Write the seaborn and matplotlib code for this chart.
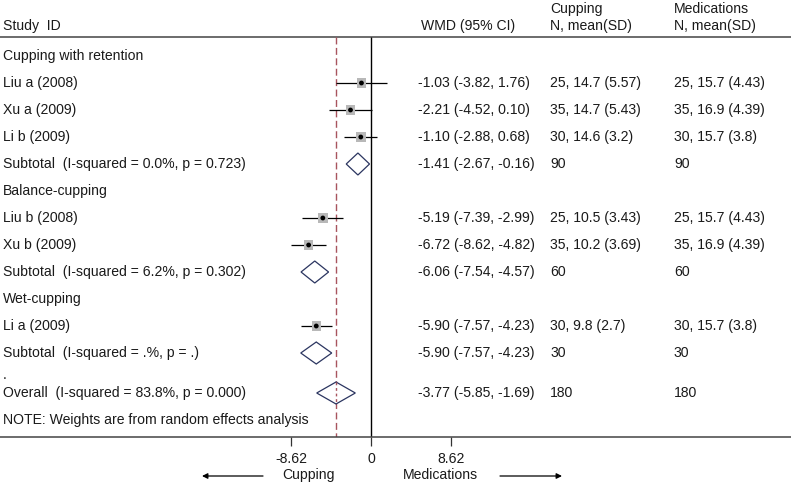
import matplotlib
matplotlib.use("Agg")
import matplotlib.pyplot as plt
from matplotlib.patches import Polygon
import seaborn as sns
import pandas as pd

# ---------------- data ----------------
study_names = ["Liu a (2008)", "Xu a (2009)", "Li b (2009)",
               "Liu b (2008)", "Xu b (2009)", "Li a (2009)"]
study_group = [0, 0, 0, 1, 1, 2]
study_est = [-1.03, -2.21, -1.10, -5.19, -6.72, -5.90]
study_lo = [-3.82, -4.52, -2.88, -7.39, -8.62, -7.57]
study_hi = [1.76, 0.10, 0.68, -2.99, -4.82, -4.23]
cup_n = [25, 35, 30, 25, 35, 30]
cup_mean = [14.7, 14.7, 14.6, 10.5, 10.2, 9.8]
cup_sd = ["5.57", "5.43", "3.2", "3.43", "3.69", "2.7"]
med_n = [25, 35, 30, 25, 35, 30]
med_mean = [15.7, 16.9, 15.7, 15.7, 16.9, 15.7]
med_sd = ["4.43", "4.39", "3.8", "4.43", "4.39", "3.8"]

group_names = ["Cupping with retention", "Balance-cupping", "Wet-cupping"]
sub_est = [-1.41, -6.06, -5.90]
sub_lo = [-2.67, -7.54, -7.57]
sub_hi = [-0.16, -4.57, -4.23]
sub_i2 = ["0.0%", "6.2%", ".%"]
sub_p = ["0.723", "0.302", "."]
sub_ncup = [90, 60, 30]
sub_nmed = [90, 60, 30]

overall_est, overall_lo, overall_hi = -3.77, -5.85, -1.69
overall_i2, overall_p = "83.8%", "0.000"
overall_ncup, overall_nmed = 180, 180

tick_vals = [-8.62, 0, 8.62]
tick_labels = ["-8.62", "0", "8.62"]

# ---------------- layout ----------------
sns.set_style("white")
plt.rcParams["font.family"] = ["Liberation Sans", "DejaVu Sans"]
FS = 10.1
TXT = "#1a1a1a"

W, H = 791, 483
fig = plt.figure(figsize=(W / 100, H / 100), dpi=100)
AX_BOTTOM = 437
ax = fig.add_axes([0, (H - AX_BOTTOM) / H, 1, AX_BOTTOM / H])
X0, PX = 371, 9.28
ax.set_xlim(-X0 / PX, (W - X0) / PX)
ax.set_ylim(AX_BOTTOM, 0)


def px(p):
    return (p - X0) / PX


def row(i):
    return 56 + 27 * i


COL_ID, COL_WMD, COL_CUP, COL_MED = px(3), px(418), px(550), px(674)

# header
hdr_y = 26
ax.text(COL_ID, hdr_y, "Study  ID", fontsize=FS, color=TXT, va="center")
ax.text(px(421), hdr_y, "WMD (95% CI)", fontsize=FS, color=TXT, va="center")
ax.text(COL_CUP, 9, "Cupping", fontsize=FS, color=TXT, va="center")
ax.text(COL_CUP, hdr_y, "N, mean(SD)", fontsize=FS, color=TXT, va="center")
ax.text(COL_MED, 9, "Medications", fontsize=FS, color=TXT, va="center")
ax.text(COL_MED, hdr_y, "N, mean(SD)", fontsize=FS, color=TXT, va="center")
ax.hlines(37, ax.get_xlim()[0], ax.get_xlim()[1], color="#444444", lw=1.1)

# reference lines
ax.vlines(0, 37, AX_BOTTOM, color="black", lw=1.0)
ax.vlines(overall_est, 37, AX_BOTTOM, color="#a8545e", lw=1.0,
          linestyles=(0, (5, 2.5)))

# assign rows
r = 0
study_rows = [None] * len(study_names)
sub_rows = []
for g, gname in enumerate(group_names):
    ax.text(COL_ID, row(r), gname, fontsize=FS, color=TXT, va="center")
    r += 1
    for k in range(len(study_names)):
        if study_group[k] == g:
            study_rows[k] = row(r)
            r += 1
    sub_rows.append(row(r))
    r += 1

# study rows
df = pd.DataFrame({"est": study_est, "lo": study_lo, "hi": study_hi,
                   "y": study_rows})
ax.hlines(df["y"], df["lo"], df["hi"], color="black", lw=0.9)
sns.scatterplot(data=df, x="est", y="y", marker="s", s=46, color="#b8b8b8",
                edgecolor="none", ax=ax, legend=False, zorder=3)
sns.scatterplot(data=df, x="est", y="y", marker="o", s=12, color="black",
                edgecolor="none", ax=ax, legend=False, zorder=4)

for k, name in enumerate(study_names):
    y = study_rows[k]
    ax.text(COL_ID, y, name, fontsize=FS, color=TXT, va="center")
    ax.text(COL_WMD, y, f"{study_est[k]:.2f} ({study_lo[k]:.2f}, {study_hi[k]:.2f})",
            fontsize=FS, color=TXT, va="center")
    ax.text(COL_CUP, y, f"{cup_n[k]}, {cup_mean[k]:g} ({cup_sd[k]})",
            fontsize=FS, color=TXT, va="center")
    ax.text(COL_MED, y, f"{med_n[k]}, {med_mean[k]:g} ({med_sd[k]})",
            fontsize=FS, color=TXT, va="center")

DIA = "#2b3560"


def diamond(est, lo, hi, y):
    ax.add_patch(Polygon([(lo, y), (est, y - 11), (hi, y), (est, y + 11)],
                         closed=True, facecolor="white", edgecolor=DIA,
                         lw=0.9, zorder=3))


for g in range(len(group_names)):
    y = sub_rows[g]
    diamond(sub_est[g], sub_lo[g], sub_hi[g], y)
    ax.text(COL_ID, y, f"Subtotal  (I-squared = {sub_i2[g]}, p = {sub_p[g]})",
            fontsize=FS, color=TXT, va="center")
    ax.text(COL_WMD, y, f"{sub_est[g]:.2f} ({sub_lo[g]:.2f}, {sub_hi[g]:.2f})",
            fontsize=FS, color=TXT, va="center")
    ax.text(COL_CUP, y, f"{sub_ncup[g]}", fontsize=FS, color=TXT, va="center")
    ax.text(COL_MED, y, f"{sub_nmed[g]}", fontsize=FS, color=TXT, va="center")

# overall
oy = 393
ax.text(COL_ID, 375, ".", fontsize=FS, color=TXT, va="center")
diamond(overall_est, overall_lo, overall_hi, oy)
ax.vlines(overall_est, oy - 11, oy + 11, color="#a8545e", lw=1.0,
          linestyles=(0, (2, 2)), zorder=4)
ax.text(COL_ID, oy, f"Overall  (I-squared = {overall_i2}, p = {overall_p})",
        fontsize=FS, color=TXT, va="center")
ax.text(COL_WMD, oy, f"{overall_est:.2f} ({overall_lo:.2f}, {overall_hi:.2f})",
        fontsize=FS, color=TXT, va="center")
ax.text(COL_CUP, oy, f"{overall_ncup}", fontsize=FS, color=TXT, va="center")
ax.text(COL_MED, oy, f"{overall_nmed}", fontsize=FS, color=TXT, va="center")
ax.text(COL_ID, 420, "NOTE: Weights are from random effects analysis",
        fontsize=FS, color=TXT, va="center")

# axis styling
for s in ["top", "left", "right"]:
    ax.spines[s].set_visible(False)
ax.spines["bottom"].set_color("#444444")
ax.spines["bottom"].set_linewidth(1.1)
ax.set_yticks([])
ax.set_xticks(tick_vals)
ax.set_xticklabels(tick_labels)
ax.tick_params(axis="x", direction="out", length=6.5, width=0.9,
               color="#333333", pad=4, labelsize=FS, labelcolor=TXT, bottom=True)
ax.set_xlabel("")
ax.set_ylabel("")

# direction labels & arrows
ax.text(px(308), 475, "Cupping", fontsize=FS, color=TXT, ha="center", va="center")
ax.text(px(440), 475, "Medications", fontsize=FS, color=TXT, ha="center", va="center")
ax.annotate("", xy=(px(202), 476), xytext=(px(263), 476),
            arrowprops=dict(arrowstyle="-|>", lw=0.9, color="black",
                            mutation_scale=8, shrinkA=0, shrinkB=0),
            annotation_clip=False)
ax.annotate("", xy=(px(562), 476), xytext=(px(500), 476),
            arrowprops=dict(arrowstyle="-|>", lw=0.9, color="black",
                            mutation_scale=8, shrinkA=0, shrinkB=0),
            annotation_clip=False)

fig.savefig("out.png", dpi=100)
